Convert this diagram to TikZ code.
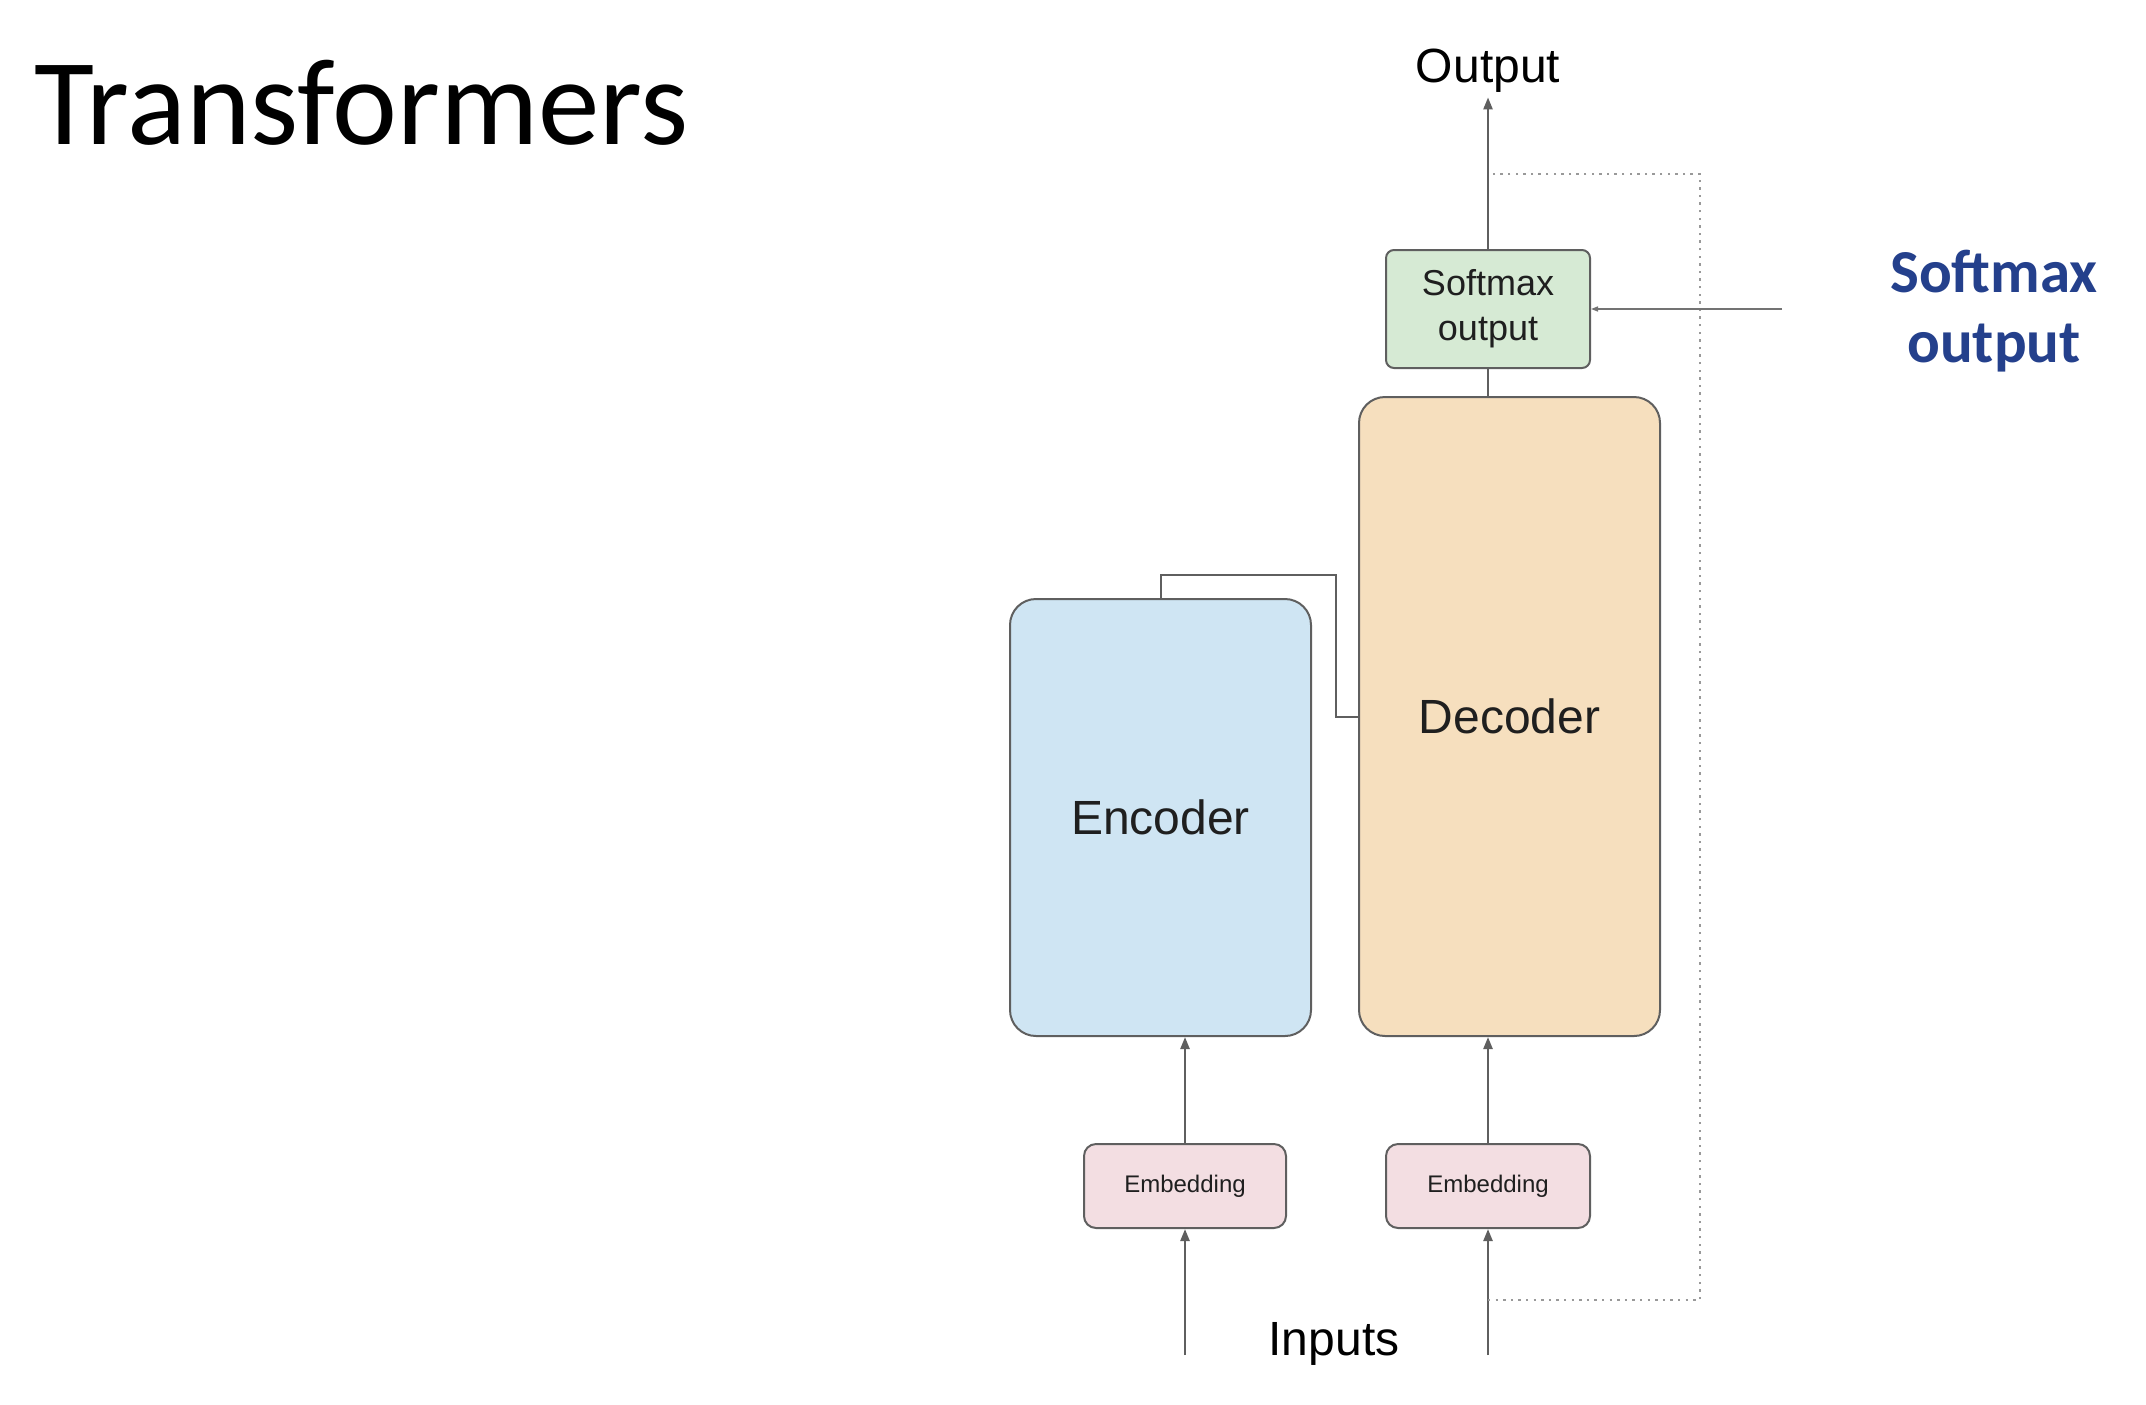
\documentclass[tikz,border=0pt]{standalone}
\usepackage{fontspec}
\setmainfont{Liberation Sans}
\newfontfamily\slidefont{Carlito}
\usetikzlibrary{arrows.meta,calc}
\definecolor{encblue}{RGB}{207,229,243}
\definecolor{decpeach}{RGB}{246,223,190}
\definecolor{softgreen}{RGB}{214,234,212}
\definecolor{embpink}{RGB}{243,222,226}
\definecolor{edgegray}{RGB}{95,95,95}
\definecolor{slideblue}{RGB}{36,64,140}
\begin{document}
\begin{tikzpicture}[x=0.5pt,y=0.5pt,yscale=-1,xscale=1,
    block/.style={draw=edgegray,line width=1pt,text=black!88,inner sep=0pt,align=center},
    flow/.style={draw=edgegray,line width=1.2pt,-{Triangle[length=6pt,width=4.5pt]}},
    feedback/.style={draw=black!40,line width=0.8pt,dash pattern=on 1.2pt off 2.6pt}]
        \useasboundingbox (0,0) rectangle (2146,1404);
        
        % Text Node
        \node (title) [anchor=base west,inner sep=0pt] at (34,144) {\slidefont\fontsize{61.5}{70}\selectfont Transformers};
        
        %Shape: Rectangle [softmax]
        \node (soft) [block,fill=softgreen,rounded corners=4pt,minimum width=102pt,minimum height=59pt,font=\fontsize{18}{22.5}\selectfont] at (1488,309) {\raisebox{-1.5pt}{\begin{tabular}{@{}c@{}}Softmax\\output\end{tabular}}};
        %Shape: Rectangle [decoder]
        \node (dec) [block,fill=decpeach,rounded corners=13pt,minimum width=150.5pt,minimum height=319.5pt,font=\fontsize{24}{28}\selectfont] at (1509.5,716.5) {Decoder};
        %Shape: Rectangle [encoder]
        \node (enc) [block,fill=encblue,rounded corners=13pt,minimum width=150.5pt,minimum height=218.5pt,font=\fontsize{24}{28}\selectfont] at (1160.5,817.5) {Encoder};
        %Shape: Rectangle [embeddings]
        \node (embL) [block,fill=embpink,rounded corners=6pt,minimum width=101pt,minimum height=42pt,font=\fontsize{12}{14}\selectfont] at (1185,1186) {Embedding};
        \node (embR) [block,fill=embpink,rounded corners=6pt,minimum width=102pt,minimum height=42pt,font=\fontsize{12}{14}\selectfont] at (1488,1186) {Embedding};
        
        % Text Node
        \node (out) [anchor=base,inner sep=2.5pt,font=\fontsize{24}{28}\selectfont] at (1488,82) {Output};
        % Text Node
        \node (inp) [anchor=base,inner sep=0pt,font=\fontsize{24}{28}\selectfont] at (1334,1355) {Inputs};
        % Text Node
        \node (note) [inner sep=0pt,align=center,text=slideblue,font=\slidefont\bfseries\fontsize{30.5}{35}\selectfont] at (1994,311) {Softmax\\output};
        
        \coordinate (inL) at (1185,1355);
        \coordinate (inR) at (1488,1355);
        \coordinate (bridge) at (1336,575);
        \coordinate (fbin) at (1488,1300);
        \coordinate (fbcorner) at (1700,174);
        \coordinate (fbout) at (1491,174);
        \coordinate (side) at (1782,309);
        
        %Straight Lines
        \draw [flow] (inL) -- (embL.south);
        \draw [flow] (inR) -- (embR.south);
        \draw [flow] (embL.north) -- (embL.north |- enc.south);
        \draw [flow] (embR.north) -- (embR.north |- dec.south);
        \draw [draw=edgegray,line width=1.2pt] (soft.south) -- (soft.south |- dec.north);
        \draw [flow] (soft.north) -- (out.south);
        \draw [draw=edgegray,line width=1pt] (enc.north) |- (bridge) |- (dec.west);
        \draw [feedback] (fbin) -| (fbcorner) -- (fbout);
        \draw [draw=black!55,line width=0.7pt,-{Triangle[length=3.5pt,width=2.5pt]}] (side) -- (soft.east);
        
\end{tikzpicture}
\end{document}
